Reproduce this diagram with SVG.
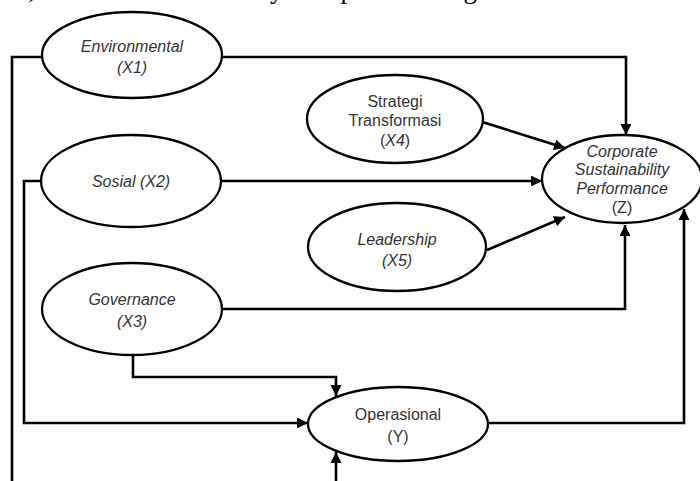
<svg xmlns="http://www.w3.org/2000/svg" width="700" height="481" viewBox="0 0 700 481">
<style>
.n ellipse{fill:#fff;stroke:#000;stroke-width:2.3}
.t{font-family:"Liberation Sans",Arial,sans-serif;font-size:16px;fill:#333;text-anchor:middle}
.i{font-style:italic}
.c{fill:none;stroke:#000;stroke-width:2.6}
.cap{font-family:"Liberation Serif","Times New Roman",serif;font-size:27px;fill:#000}
</style>
<defs>
<marker id="a" viewBox="0 0 10 10" refX="10" refY="5" markerWidth="4.2" markerHeight="4.2" markerUnits="strokeWidth" orient="auto">
<path d="M0,0 L10,5 L0,10 z" fill="#000"/>
</marker>
</defs>
<text class="cap" x="18" y="-2">s, the model of the study is depicted in Figure 1.</text>
<g id="connectors">
<path class="c" d="M42,57 H12 V481"/>
<path class="c" d="M222,57 H626 V135" marker-end="url(#a)"/>
<path class="c" d="M221,181 H542" marker-end="url(#a)"/>
<path class="c" d="M41,181 H24 V423 H308" marker-end="url(#a)"/>
<path class="c" d="M222,309 H625 V225" marker-end="url(#a)"/>
<path class="c" d="M133,355 V377 H336 V396" marker-end="url(#a)"/>
<path class="c" d="M336,481 V452" marker-end="url(#a)"/>
<path class="c" d="M488,423 H684 V209" marker-end="url(#a)"/>
<path class="c" d="M479,121 L565,148" marker-end="url(#a)"/>
<path class="c" d="M487,250 L565,217" marker-end="url(#a)"/>
</g>
<g id="x1" class="n">
<ellipse cx="132" cy="55" rx="90" ry="43"/>
<text class="t i" x="132" y="52">Environmental</text>
<text class="t i" x="132" y="73">(X1)</text>
</g>
<g id="x2" class="n">
<ellipse cx="131" cy="181" rx="90" ry="46"/>
<text class="t i" x="131" y="187">Sosial (X2)</text>
</g>
<g id="x3" class="n">
<ellipse cx="132" cy="309" rx="90" ry="46"/>
<text class="t i" x="132" y="305">Governance</text>
<text class="t i" x="132" y="327">(X3)</text>
</g>
<g id="x4" class="n">
<ellipse cx="395" cy="119" rx="88" ry="44"/>
<text class="t" x="395" y="107">Strategi</text>
<text class="t" x="395" y="126">Transformasi</text>
<text class="t" x="395" y="146">(<tspan class="i">X4</tspan>)</text>
</g>
<g id="x5" class="n">
<ellipse cx="397" cy="247" rx="89" ry="44"/>
<text class="t i" x="397" y="245">Leadership</text>
<text class="t i" x="397" y="266">(X5)</text>
</g>
<g id="z" class="n">
<ellipse cx="622" cy="179" rx="80" ry="44"/>
<text class="t i" x="622" y="157">Corporate</text>
<text class="t i" x="622" y="175">Sustainability</text>
<text class="t i" x="622" y="194">Performance</text>
<text class="t" x="622" y="213">(Z)</text>
</g>
<g id="y" class="n">
<ellipse cx="398" cy="424" rx="90" ry="37"/>
<text class="t" x="398" y="420">Operasional</text>
<text class="t" x="398" y="442">(Y)</text>
</g>
</svg>
